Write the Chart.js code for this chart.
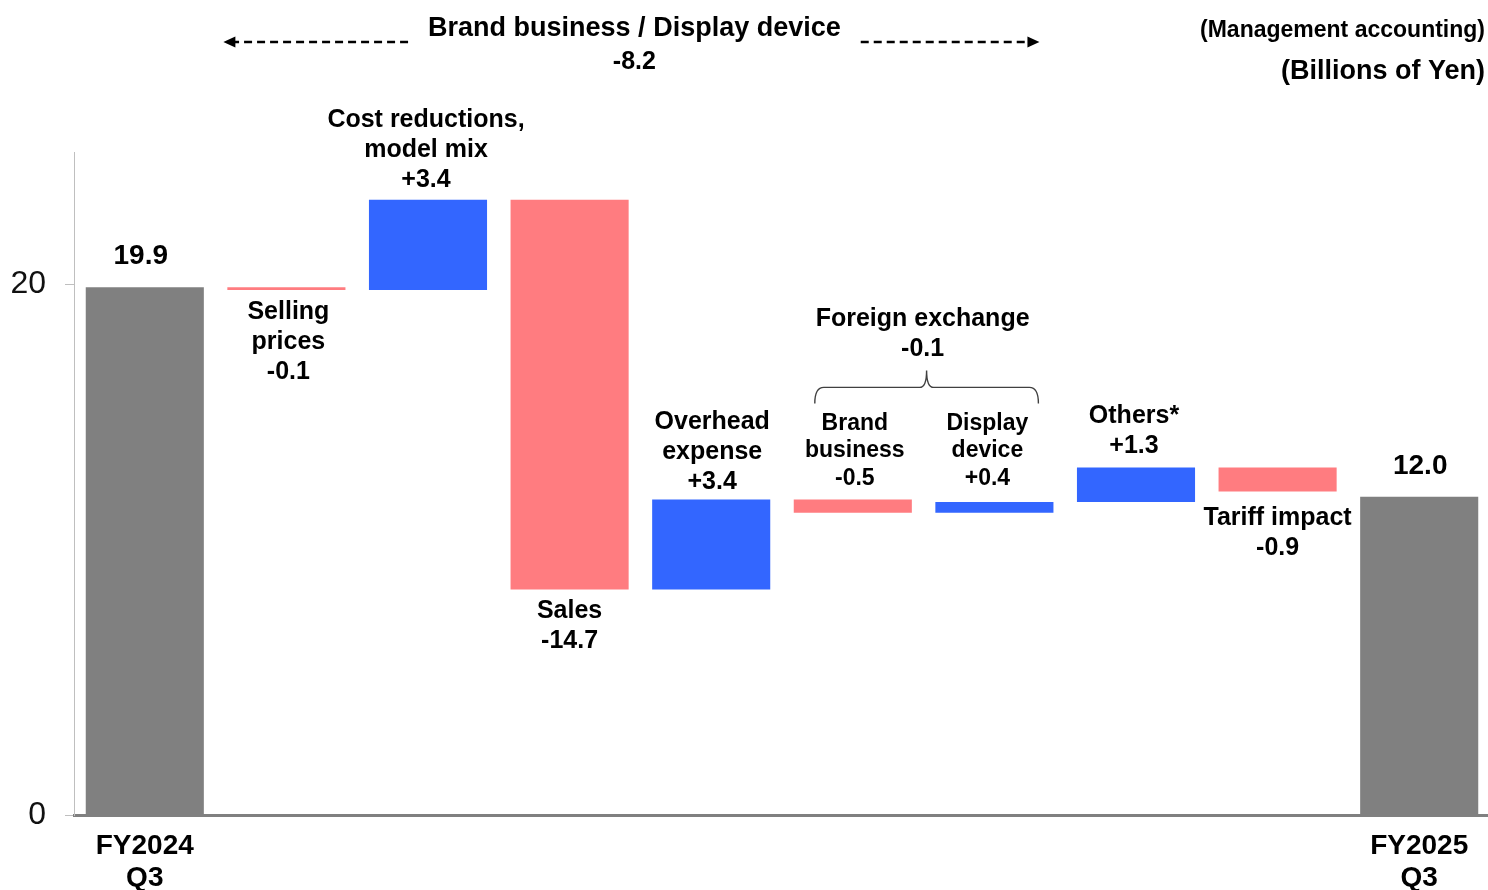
<!DOCTYPE html>
<html>
<head>
<meta charset="utf-8">
<title>Operating income bridge</title>
<script src="https://cdn.jsdelivr.net/npm/chart.js@4/dist/chart.umd.min.js"></script>
<style>
  html, body { margin: 0; padding: 0; background: #ffffff; overflow: hidden; }
  #wrap { width: 1488px; height: 890px; position: relative; overflow: hidden; }
</style>
</head>
<body>
<div id="wrap"><canvas id="bridge" width="1490" height="890"></canvas></div>
<script>
// Category names (one per bar)
const categories = ['FY2024 Q3', 'Selling prices', 'Cost reductions, model mix', 'Sales',
  'Overhead expense', 'Brand business', 'Display device', 'Others*', 'Tariff impact', 'FY2025 Q3'];

// Starting and ending totals (billions of yen)
const startTotal = 19.9;
const endTotal = 12.0;

// Changes between the two totals, in bar order
const changes = [-0.1, 3.4, -14.7, 3.4, -0.5, 0.4, 1.3, -0.9];

// Group subtotals shown above the bars
const brandDisplayTotal = -8.2;
const foreignExchangeTotal = -0.1;

// Text lines printed with each bar (the value line is added from the data)
const barCaptions = [
  [], ['Selling', 'prices'], ['Cost reductions,', 'model mix'], ['Sales'],
  ['Overhead', 'expense'], ['Brand', 'business'], ['Display', 'device'], ['Others*'], ['Tariff impact'], []
];

// x-axis tick labels
const xTickLabels = [['FY2024', 'Q3'], '', '', '', '', '', '', '', '', ['FY2025', 'Q3']];

// y-axis ticks
const yTicks = [0, 20];
const yMax = 25;

// Build the floating ranges of the waterfall
const ranges = [[0, startTotal]];
let running = startTotal;
changes.forEach(c => {
  const next = Math.round((running + c) * 10) / 10;
  ranges.push([running, next]);
  running = next;
});
ranges.push([0, endTotal]);

const values = [startTotal, ...changes, endTotal];
const isTotal = i => i === 0 || i === categories.length - 1;

const GREY = '#808080';
const UP = '#3366FF';
const DOWN = '#FF7C80';
const colors = values.map((v, i) => isTotal(i) ? GREY : (v >= 0 ? UP : DOWN));

const FONT = '"Liberation Sans", Arial, Helvetica, sans-serif';

function fmt(v, i) {
  if (isTotal(i)) return v.toFixed(1);
  return (v > 0 ? '+' : '') + v.toFixed(1);
}

// caption placement per bar: side, gap to the bar edge (px), horizontal nudge (px)
const labelSide = ['above', 'below', 'above', 'below', 'above', 'above', 'above', 'above', 'below', 'above'];
const labelGap  = [31, 22, 20, 22, 17, 21, 21, 21, 27, 30];
const labelNudge = [-4, 2, -2, 0, 1, 2, -7, -2, 0, 1];

function drawLines(ctx, lines, x, yFirst, size, lh) {
  ctx.font = 'bold ' + size + 'px ' + FONT;
  ctx.textAlign = 'center';
  ctx.textBaseline = 'middle';
  ctx.fillStyle = '#000000';
  lines.forEach((t, k) => ctx.fillText(t, x, yFirst + k * lh));
}

function dashedArrow(ctx, xFrom, xTo, y) {
  // dashed shaft ending in a filled head at xTo
  const dir = Math.sign(xTo - xFrom);
  ctx.save();
  ctx.strokeStyle = '#000000';
  ctx.lineWidth = 2.6;
  ctx.setLineDash([8, 5]);
  ctx.beginPath();
  ctx.moveTo(xFrom, y);
  ctx.lineTo(xTo - dir * 8, y);
  ctx.stroke();
  ctx.setLineDash([]);
  ctx.fillStyle = '#000000';
  ctx.beginPath();
  ctx.moveTo(xTo, y);
  ctx.lineTo(xTo - dir * 12, y - 5.5);
  ctx.lineTo(xTo - dir * 12, y + 5.5);
  ctx.closePath();
  ctx.fill();
  ctx.restore();
}

const annotations = {
  id: 'bridgeAnnotations',
  afterDatasetsDraw(chart) {
    const ctx = chart.ctx;
    const bars = chart.getDatasetMeta(0).data;
    const top = i => Math.min(bars[i].y, bars[i].base);
    const bottom = i => Math.max(bars[i].y, bars[i].base);
    ctx.save();

    // bar captions + values
    bars.forEach((bar, i) => {
      const lines = barCaptions[i].concat([fmt(values[i], i)]);
      const x = bar.x + labelNudge[i];
      if (isTotal(i)) {
        drawLines(ctx, lines, x, top(i) - labelGap[i], 28, 30);
        return;
      }
      const small = (i === 5 || i === 6);
      const size = small ? 23 : 25;
      const lh = small ? 27.5 : 30;
      if (labelSide[i] === 'below') {
        drawLines(ctx, lines, x, bottom(i) + labelGap[i], size, lh);
      } else if (small) {
        // both foreign-exchange captions share one line set above the brand bar
        drawLines(ctx, lines, x, top(5) - labelGap[i] - (lines.length - 1) * lh, size, lh);
      } else {
        drawLines(ctx, lines, x, top(i) - labelGap[i] - (lines.length - 1) * lh, size, lh);
      }
    });

    // foreign exchange brace and label
    const b = bars[5], d = bars[6];
    const x0 = b.x - 38, x1 = d.x + 44, xc = (b.x + d.x) / 2 + 3;
    const refTop = top(5);
    const yt = refTop - 112, yb = refTop - 96, yp = refTop - 129;
    ctx.strokeStyle = '#404040';
    ctx.lineWidth = 1.4;
    ctx.beginPath();
    ctx.moveTo(x0, yb);
    ctx.quadraticCurveTo(x0, yt, x0 + 9, yt);
    ctx.lineTo(xc - 7, yt);
    ctx.quadraticCurveTo(xc, yt, xc, yp);
    ctx.quadraticCurveTo(xc, yt, xc + 7, yt);
    ctx.lineTo(x1 - 9, yt);
    ctx.quadraticCurveTo(x1, yt, x1, yb);
    ctx.stroke();
    drawLines(ctx, ['Foreign exchange', fmt(foreignExchangeTotal, 1)], xc - 4, refTop - 180, 25, 30);

    // brand business / display device header with dashed arrows
    const s = bars[1], e = bars[6];
    const aL = s.x - s.width / 2 - 4;
    const aR = e.x + e.width / 2 - 14;
    const hc = (aL + aR) / 2 + 3;
    const hy = chart.chartArea.top - 123;
    const header = 'Brand business / Display device';
    ctx.font = 'bold 27px ' + FONT;
    const hw = ctx.measureText(header).width;
    drawLines(ctx, [header], hc, hy, 27, 33);
    drawLines(ctx, [brandDisplayTotal.toFixed(1)], hc, hy + 33, 25, 33);
    dashedArrow(ctx, hc - hw / 2 - 20, aL, hy + 13);
    dashedArrow(ctx, hc + hw / 2 + 20, aR, hy + 13);

    // unit notes at top right (visible page is 1488 px wide)
    const rightEdge = 1485;
    ctx.textAlign = 'right';
    ctx.textBaseline = 'middle';
    ctx.fillStyle = '#000000';
    ctx.font = 'bold 23px ' + FONT;
    ctx.fillText('(Management accounting)', rightEdge, 31);
    ctx.font = 'bold 27px ' + FONT;
    ctx.fillText('(Billions of Yen)', rightEdge, 72);

    ctx.restore();
  }
};

new Chart(document.getElementById('bridge'), {
  type: 'bar',
  data: {
    labels: categories,
    datasets: [{
      data: ranges,
      backgroundColor: colors,
      borderWidth: 0,
      barPercentage: 0.834,
      categoryPercentage: 1.0,
      grouped: false
    }]
  },
  options: {
    responsive: false,
    animation: false,
    events: [],
    layout: { padding: { top: 152, right: 0, bottom: 0, left: 0 } },
    plugins: {
      legend: { display: false },
      title: { display: false },
      tooltip: { enabled: false }
    },
    scales: {
      x: {
        grid: { display: false, drawTicks: false },
        border: { display: true, color: '#808080', width: 3 },
        ticks: {
          autoSkip: false,
          maxRotation: 0,
          padding: 15,
          color: '#000000',
          font: { family: FONT, size: 28, weight: 'bold', lineHeight: 1.15 },
          callback: (v, i) => xTickLabels[i]
        },
        afterFit: scale => { scale.height = 75; }
      },
      y: {
        min: 0,
        max: yMax,
        afterBuildTicks: scale => { scale.ticks = yTicks.map(v => ({ value: v })); },
        grid: { display: true, drawOnChartArea: false, drawTicks: true, tickLength: 9, color: '#bfbfbf' },
        border: { display: true, color: '#bfbfbf', width: 1 },
        ticks: {
          padding: 19,
          color: '#111111',
          font: { family: FONT, size: 32 }
        },
        afterFit: scale => { scale.width = 74; }
      }
    }
  },
  plugins: [annotations]
});
</script>
</body>
</html>
